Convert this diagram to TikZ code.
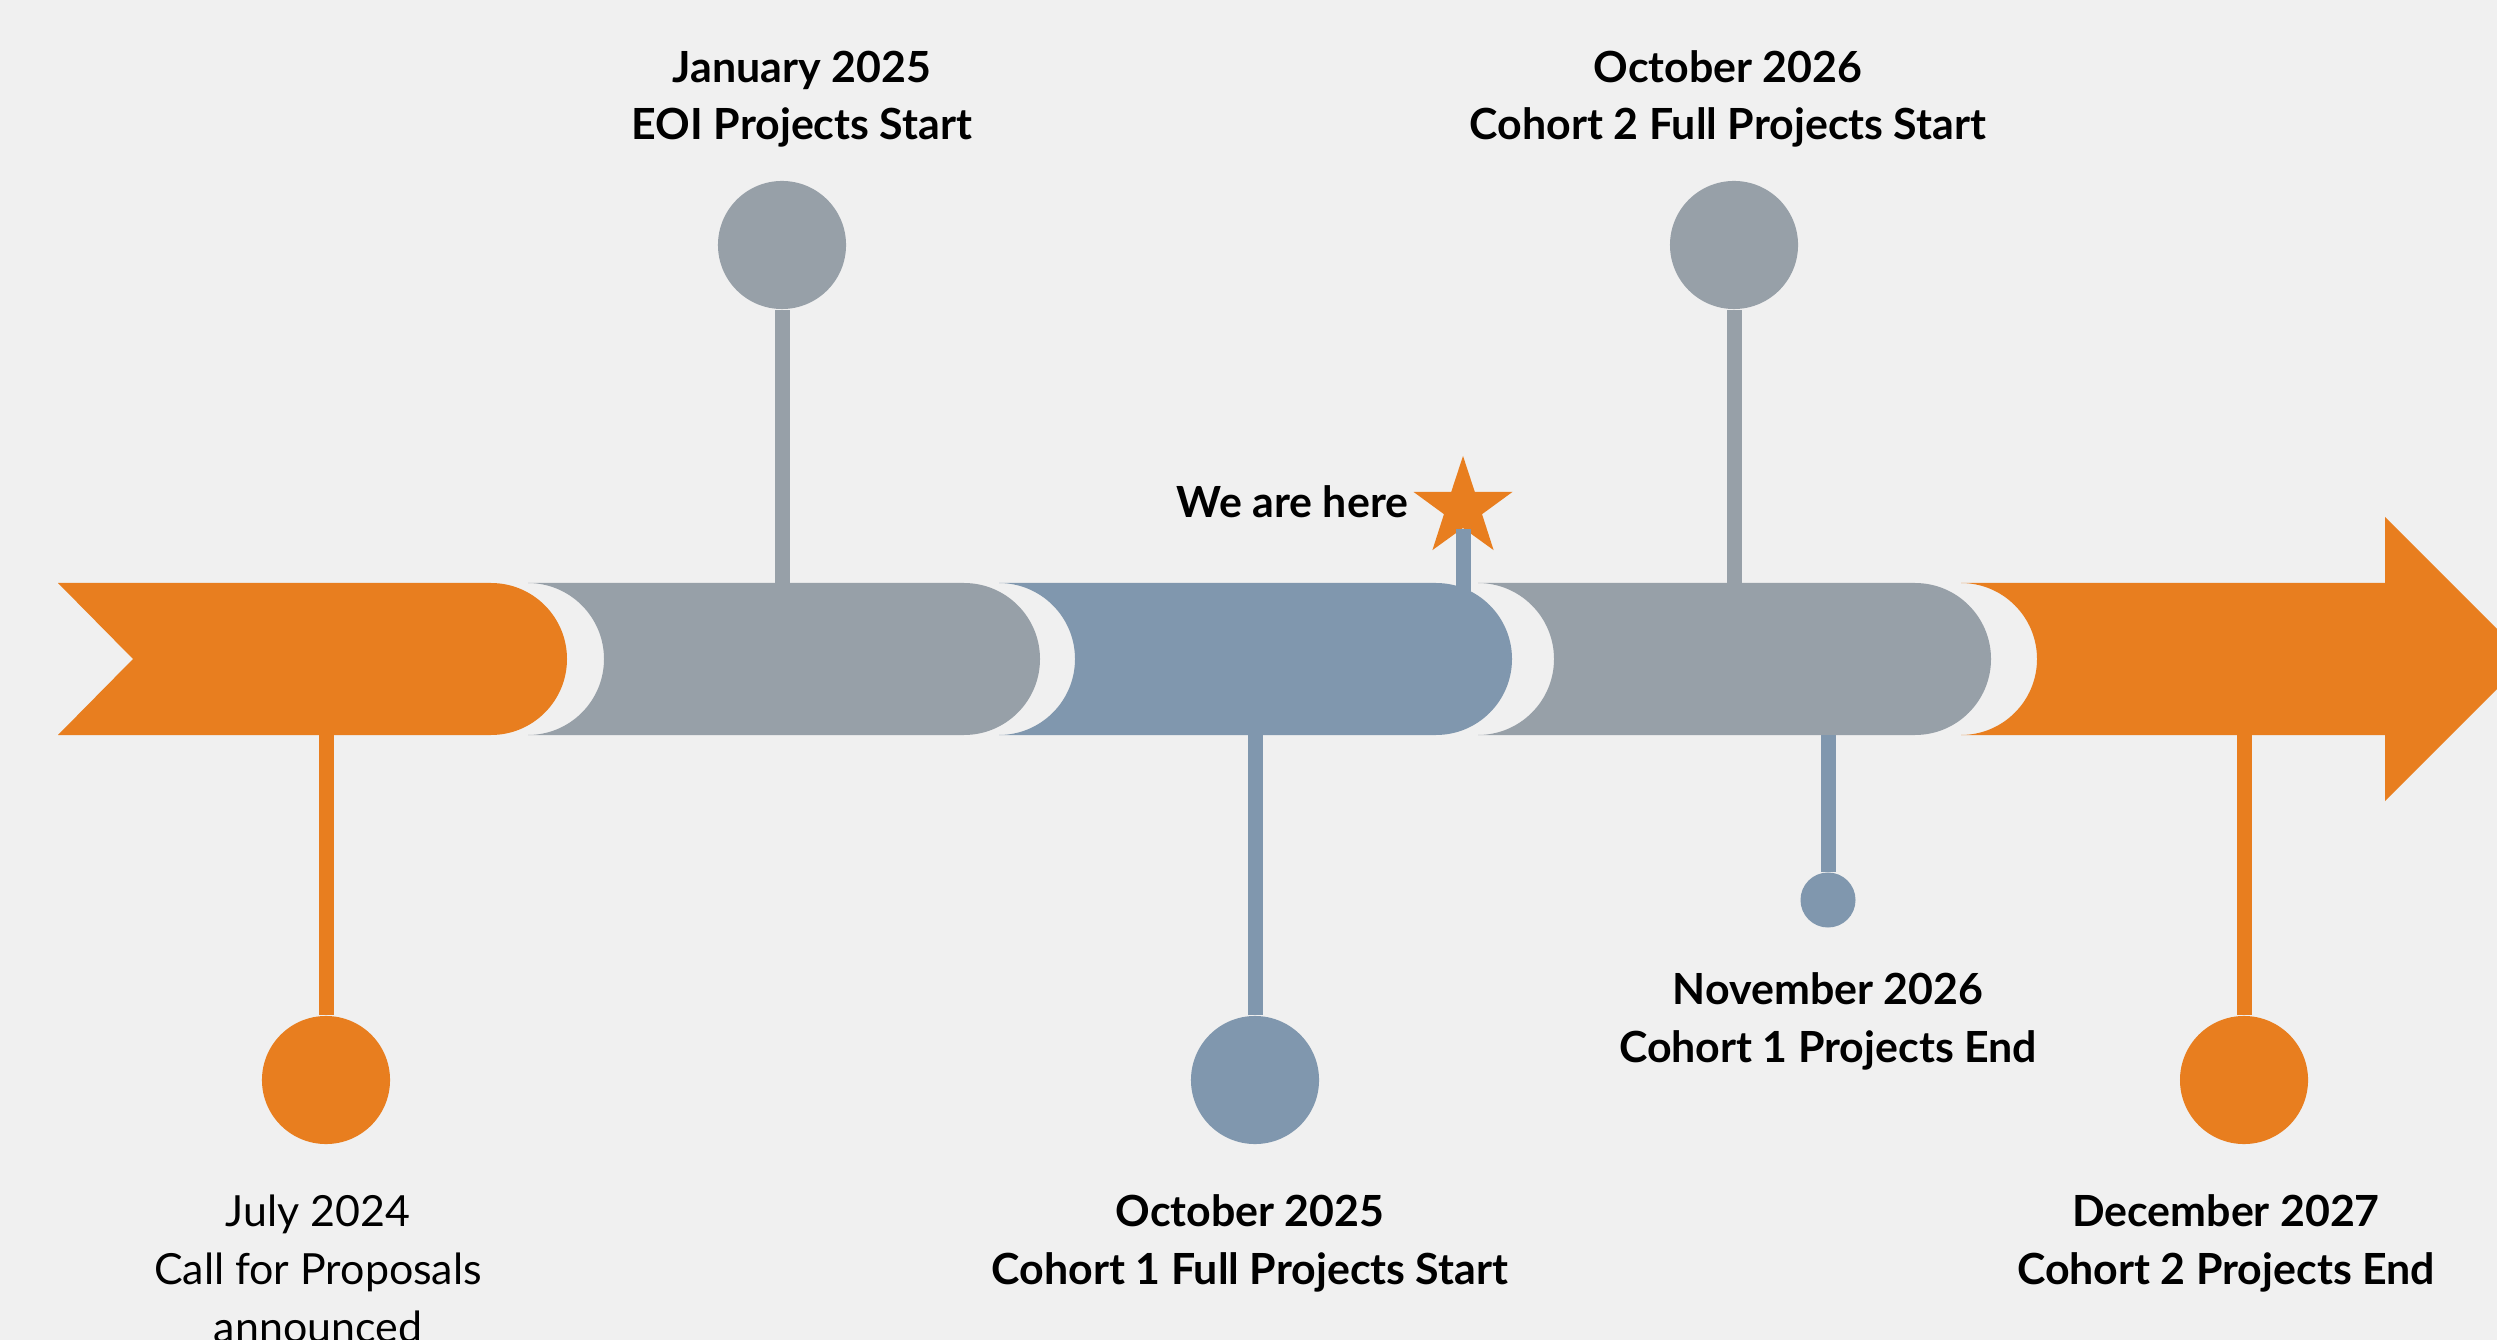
\documentclass[tikz,border=0pt]{standalone}
\usepackage{fontspec}
\setmainfont{Lato}
\usetikzlibrary{shapes.geometric}

\definecolor{tlorange}{HTML}{E87E1F}
\definecolor{tlgrey}{HTML}{97A0A8}
\definecolor{tlblue}{HTML}{8097AE}
\definecolor{tlback}{HTML}{F0F0F0}

\begin{document}
\begin{tikzpicture}[x=0.01cm,y=-0.01cm,
	dot/.style={shape=circle,inner sep=0pt,minimum size=1.28cm},
	smalldot/.style={shape=circle,inner sep=0pt,minimum size=0.55cm},
	stem/.style={line width=0.15cm},
	lbl/.style={align=center,anchor=base,inner sep=0pt,font=\bfseries\fontsize{12.2}{16.4}\selectfont},
	herestar/.style={star,star points=5,star point ratio=2.6,inner sep=0pt,minimum size=1.04cm,fill=tlorange}]
	\fill[tlback] (0,0) rectangle (2497,1340);
	\useasboundingbox (0,0) rectangle (2497,1340);
	\clip (0,0) rectangle (2497,1340);

	% bar
	\fill[tlorange] (58,583) -- (491,583) arc[start angle=-90,end angle=90,radius=76] -- (58,735) -- (133,659) -- cycle;
	\fill[tlgrey] (528,583) -- (964,583) arc[start angle=-90,end angle=90,radius=76] -- (528,735) arc[start angle=90,end angle=-90,radius=76] -- cycle;
	\fill[tlblue] (999,583) -- (1436,583) arc[start angle=-90,end angle=90,radius=76] -- (999,735) arc[start angle=90,end angle=-90,radius=76] -- cycle;
	\fill[tlgrey] (1478,583) -- (1915,583) arc[start angle=-90,end angle=90,radius=76] -- (1478,735) arc[start angle=90,end angle=-90,radius=76] -- cycle;
	\fill[tlorange] (1961,583) -- (2385,583) -- (2385,517) -- (2527,659) -- (2385,801) -- (2385,735) -- (1961,735) arc[start angle=90,end angle=-90,radius=76] -- cycle;

	% milestones
	\path (326,1080) node (jul24) [dot,fill=tlorange] {}
		  (782,245) node (jan25) [dot,fill=tlgrey] {}
		  (1255,1080) node (oct25) [dot,fill=tlblue] {}
		  (1734,245) node (oct26) [dot,fill=tlgrey] {}
		  (1828,900) node (nov26) [smalldot,fill=tlblue] {}
		  (2244,1080) node (dec27) [dot,fill=tlorange] {}
		  (1463,508) node (here) [herestar] {};
	\coordinate (jul24bar) at (326,735);
	\coordinate (jan25bar) at (782,583);
	\coordinate (oct25bar) at (1255,735);
	\coordinate (oct26bar) at (1734,583);
	\coordinate (nov26bar) at (1828,735);
	\coordinate (dec27bar) at (2244,735);
	\coordinate (herebar) at (1463,592);
	\draw[stem,tlorange] (jul24bar) -- (jul24);
	\draw[stem,tlgrey] (jan25bar) -- (jan25);
	\draw[stem,tlblue] (oct25bar) -- (oct25);
	\draw[stem,tlgrey] (oct26bar) -- (oct26);
	\draw[stem,tlblue] (nov26bar) -- (nov26);
	\draw[stem,tlorange] (dec27bar) -- (dec27);
	\draw[stem,tlblue] (here.inner point 3) -- (herebar);

	% labels (base = last line)
	\node (jan25txt) [lbl] at (802,140) {January 2025\\EOI Projects Start};
	\node (oct26txt) [lbl] at (1728,140) {October 2026\\Cohort 2 Full Projects Start};
	\node (jul24txt) [lbl,font=\fontsize{12.2}{16.4}\selectfont] at (318,1342) {July 2024\\Call for Proposals\\announced};
	\node (oct25txt) [lbl] at (1250,1284) {October 2025\\Cohort 1 Full Projects Start};
	\node (nov26txt) [lbl] at (1828,1062) {November 2026\\Cohort 1 Projects End};
	\node (dec27txt) [lbl] at (2226,1284) {December 2027\\Cohort 2 Projects End};
	\node (heretxt) [lbl,anchor=base east] at (1409,518) {We are here};
\end{tikzpicture}
\end{document}
